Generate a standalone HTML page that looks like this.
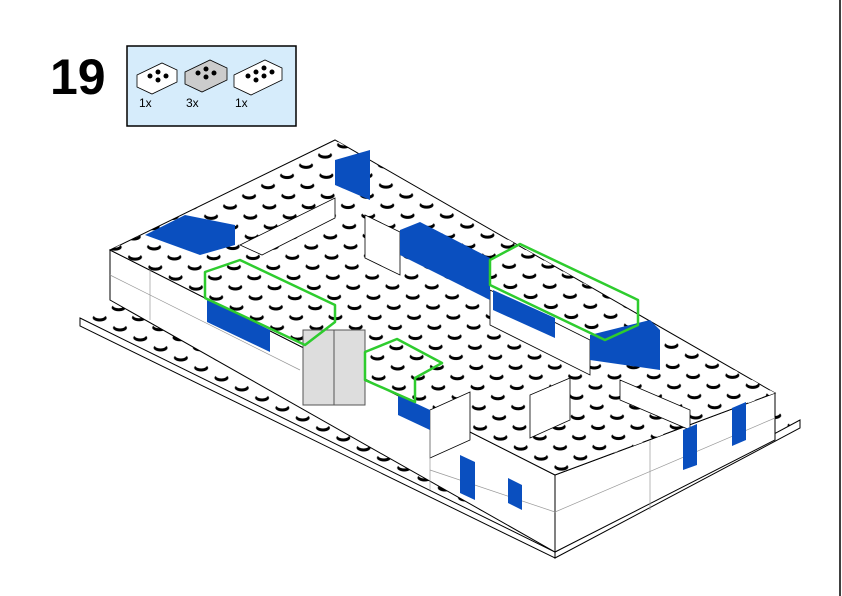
<!DOCTYPE html>
<html><head><meta charset="utf-8"><style>
html,body{margin:0;padding:0;background:#fff;width:842px;height:596px;overflow:hidden}
</style></head><body>
<svg width="842" height="596" viewBox="0 0 842 596" xmlns="http://www.w3.org/2000/svg">
<defs>
<pattern id="st" width="1" height="1" patternUnits="userSpaceOnUse" patternTransform="matrix(20.3,10,19,-10.2,80,318)">
<circle cx="0.5" cy="0.5" r="0.25" fill="#000"/>
<circle cx="0.38" cy="0.62" r="0.21" fill="#fff"/>
</pattern>
</defs>
<line x1="840" y1="0" x2="840" y2="596" stroke="#000" stroke-width="1.5"/>
<text x="50" y="94" font-family="Liberation Sans, sans-serif" font-weight="bold" font-size="50">19</text>
<rect x="127" y="46" width="169" height="80" fill="#d6ecfb" stroke="#000" stroke-width="1.5"/>
<g font-family="Liberation Sans, sans-serif" font-size="12">
<text x="139" y="107">1x</text><text x="186" y="107">3x</text><text x="235" y="107">1x</text></g>
<g stroke="#000" stroke-width="0.8">
<polygon points="137,75 162,63 177,70 177,82 152,94 137,87" fill="#fff"/>
<polygon points="185,72 210,60 227,68 227,80 202,92 185,84" fill="#ccc"/>
<polygon points="234,75 265,60 282,68 282,80 251,95 234,87" fill="#fff"/>
</g>
<g fill="#000"><circle cx="150" cy="76" r="2.5"/><circle cx="158" cy="72" r="2.5"/><circle cx="158" cy="80" r="2.5"/><circle cx="166" cy="76" r="2.5"/>
<circle cx="198" cy="73" r="2.5"/><circle cx="206" cy="69" r="2.5"/><circle cx="206" cy="77" r="2.5"/><circle cx="214" cy="73" r="2.5"/>
<circle cx="248" cy="76" r="2.5"/><circle cx="256" cy="72" r="2.5"/><circle cx="264" cy="68" r="2.5"/><circle cx="256" cy="80" r="2.5"/><circle cx="264" cy="76" r="2.5"/><circle cx="272" cy="72" r="2.5"/></g>
<!-- baseplate -->
<polygon points="80,318 325,190 800,420 555,552" fill="#fff"/>
<polygon points="80,318 325,190 800,420 555,552" fill="url(#st)"/>
<polygon points="80,318 555,552 555,558 80,326" fill="#fff" stroke="#000" stroke-width="1"/>
<polygon points="555,552 800,420 800,428 555,558" fill="#fff" stroke="#000" stroke-width="1"/>
<!-- body -->
<polygon points="110,250 555,475 555,552 110,300" fill="#fff" stroke="#000" stroke-width="1"/>
<polygon points="555,475 775,393 775,440 555,552" fill="#fff" stroke="#000" stroke-width="1"/>
<polygon points="110,250 335,140 775,393 555,475" fill="#fff" stroke="#000" stroke-width="1"/>
<polygon points="110,250 335,140 775,393 555,475" fill="url(#st)"/>
<!-- inner wall faces -->
<g fill="#fff" stroke="#000" stroke-width="0.8">
<polygon points="365,215 400,232 400,275 365,258"/>
<polygon points="490,290 590,340 590,375 490,325"/>
<polygon points="240,245 335,198 335,218 262,255"/>
<polygon points="430,410 470,392 470,440 430,458"/>
<polygon points="530,395 570,378 570,420 530,438"/>
<polygon points="620,380 690,410 690,430 620,400"/>
</g>
<g stroke="#999" stroke-width="0.7" fill="none">
<line x1="110" y1="275" x2="300" y2="370"/><line x1="430" y1="470" x2="555" y2="512"/><line x1="555" y1="512" x2="775" y2="418"/>
<line x1="150" y1="270" x2="150" y2="320"/><line x1="430" y1="410" x2="430" y2="490"/><line x1="650" y1="440" x2="650" y2="510"/>
</g>
<!-- door -->
<rect x="303" y="330" width="62" height="75" fill="#ddd" stroke="#555"/>
<line x1="334" y1="330" x2="334" y2="405" stroke="#555"/>
<!-- blue parts -->
<g fill="#0a4fbf">
<polygon points="207,300 270,330 270,352 207,322"/>
<polygon points="398,395 430,410 430,430 398,415"/>
<polygon points="460,455 475,462 475,500 460,493"/>
<polygon points="508,478 522,485 522,510 508,503"/>
<polygon points="683,430 697,424 697,465 683,470"/>
<polygon points="732,408 746,402 746,440 732,446"/>
<polygon points="400,230 420,222 490,258 490,300 400,255"/>
<polygon points="493,290 555,318 555,338 493,310"/>
<polygon points="590,335 650,320 660,330 660,370 590,360"/>
<polygon points="335,160 370,150 370,200 335,185"/>
<polygon points="145,235 185,215 235,225 235,245 200,255"/>
</g>
<!-- green outlines -->
<g fill="none" stroke="#2ecc2e" stroke-width="2.5" stroke-linejoin="round">
<polygon points="205,272 240,260 335,305 335,322 305,345 205,298"/>
<polygon points="490,260 520,244 638,300 638,325 605,340 490,285"/>
<polygon points="365,352 397,339 442,363 415,378 415,402 365,380"/>
</g>
</svg>
</body></html>
